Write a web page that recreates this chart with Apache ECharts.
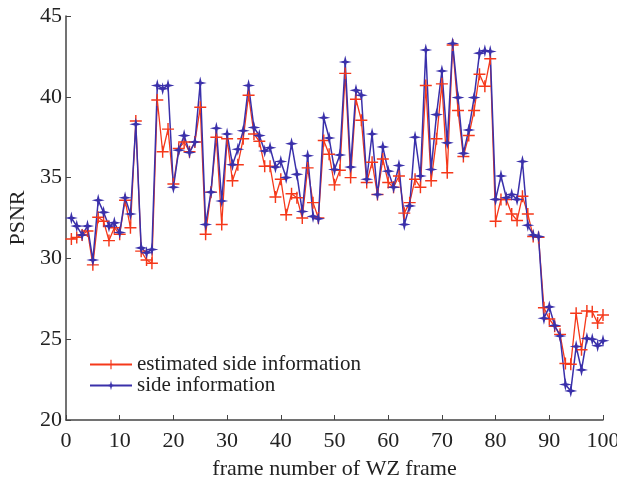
<!DOCTYPE html>
<html>
<head>
<meta charset="utf-8">
<title>PSNR</title>
<script src="https://cdn.jsdelivr.net/npm/echarts@6/dist/echarts.min.js"></script>
<style>
  html, body { margin: 0; padding: 0; background: #fff; }
  #chart { width: 617px; height: 480px; }
</style>
</head>
<body>
<div id="chart"></div>
<script>
  // frame numbers 1..100
  var frames = []
  for (var i = 1; i <= 100; i++) frames.push(i)

  var estimated = [
    31.2, 31.3, 31.45, 31.7, 29.6, 32.55, 32.3, 31.1, 31.9, 31.5,
    33.6, 31.9, 38.5, 30.45, 29.9, 29.7, 39.8, 36.6, 38.0, 34.6,
    36.8, 37.2, 36.6, 37.2, 39.35, 31.5, 34.1, 37.5, 32.1, 37.4,
    34.8, 35.8, 37.4, 40.1, 37.7, 37.25, 35.7, 35.7, 33.8, 34.9,
    32.7, 34.0, 33.75, 32.5, 35.6, 33.45, 32.5, 37.3, 36.45, 34.55,
    35.45, 41.45, 35.0, 39.85, 38.55, 34.7, 35.95, 33.95, 36.15, 34.7,
    34.4, 35.1, 32.8, 33.45, 34.9, 34.4, 40.7, 34.8, 37.4, 40.8,
    35.3, 43.2, 39.15, 36.3, 37.6, 39.15, 41.4, 40.65, 42.35, 32.3,
    33.65, 33.65, 32.75, 32.35, 33.85, 32.75, 31.35, 31.3, 26.95, 26.25,
    25.8, 25.3, 23.5, 23.45, 26.6, 24.35, 26.75, 26.7, 26.0, 26.5
  ]

  var sideInfo = [
    32.5, 32.0, 31.45, 32.0, 29.9, 33.6, 32.85, 32.0, 32.2, 31.6,
    33.75, 32.75, 38.3, 30.65, 30.35, 30.55, 40.7, 40.5, 40.7, 34.4,
    36.7, 37.6, 36.55, 37.2, 40.85, 32.1, 34.1, 38.05, 33.55, 37.7,
    35.8, 36.75, 37.9, 40.7, 38.1, 37.6, 36.65, 36.85, 35.65, 36.0,
    35.0, 37.1, 35.2, 32.9, 36.35, 32.6, 32.45, 38.7, 37.45, 35.5,
    36.4, 42.15, 35.65, 40.4, 40.1, 34.9, 37.7, 33.95, 36.9, 35.4,
    34.4, 35.75, 32.1, 33.25, 37.5, 35.1, 42.9, 35.5, 38.9, 41.6,
    37.15, 43.3, 39.95, 36.5, 37.95, 39.95, 42.7, 42.85, 42.8, 33.65,
    35.1, 33.75, 33.95, 33.65, 36.0, 32.05, 31.45, 31.35, 26.3, 27.0,
    25.85, 25.2, 22.2, 21.8, 24.55, 23.1, 25.05, 25.0, 24.6, 24.9
  ]

  var seriesNames = ['estimated side information', 'side information']

  var font = 'Liberation Serif'
  var red = '#f5381a'
  var blue = '#3a30aa'
  var plusIcon = 'path://M4.4,0h1.2v4.4h4.4v1.2h-4.4v4.4h-1.2v-4.4h-4.4v-1.2h4.4z'
  var starIcon = 'path://M5,0L6,4L10,5L6,6L5,10L4,6L0,5L4,4Z'

  function pairs(vals) {
    return frames.map(function (f, i) { return [f, vals[i]] })
  }

  var chart = echarts.init(document.getElementById('chart'))
  chart.setOption({
    backgroundColor: '#fff',
    animation: false,
    grid: {
      left: 66,
      right: 14,
      top: 16,
      bottom: 60,
      outerBoundsMode: 'none'
    },
    legend: {
      orient: 'vertical',
      left: 84,
      top: 349,
      itemWidth: 42,
      itemHeight: 12,
      itemGap: 0,
      data: seriesNames,
      textStyle: {
        fontFamily: font,
        fontSize: 21,
        lineHeight: 20,
        color: '#222'
      }
    },
    xAxis: {
      type: 'value',
      min: 0,
      max: 100,
      interval: 10,
      name: 'frame number of WZ frame',
      nameLocation: 'middle',
      nameGap: 38,
      nameTextStyle: { fontFamily: font, fontSize: 22, color: '#222' },
      axisLine: { lineStyle: { color: '#444', width: 1.5 } },
      axisTick: { inside: true, length: 5, lineStyle: { color: '#444' } },
      axisLabel: { fontFamily: font, fontSize: 22, color: '#222', margin: 10 },
      splitLine: { show: false }
    },
    yAxis: {
      type: 'value',
      min: 20,
      max: 45,
      interval: 5,
      name: 'PSNR',
      nameLocation: 'middle',
      nameGap: 36,
      nameTextStyle: { fontFamily: font, fontSize: 22, color: '#222' },
      axisLine: { show: true, lineStyle: { color: '#444', width: 1.5 } },
      axisTick: { show: true, inside: true, length: 5, lineStyle: { color: '#444' } },
      axisLabel: { fontFamily: font, fontSize: 22, color: '#222', margin: 4 },
      splitLine: { show: false }
    },
    series: [
      {
        name: seriesNames[0],
        type: 'line',
        data: pairs(estimated),
        symbol: plusIcon,
        symbolSize: 12,
        showAllSymbol: true,
        itemStyle: { color: red },
        lineStyle: { color: red, width: 1.3 }
      },
      {
        name: seriesNames[1],
        type: 'line',
        data: pairs(sideInfo),
        symbol: starIcon,
        symbolSize: 13,
        showAllSymbol: true,
        itemStyle: { color: blue },
        lineStyle: { color: blue, width: 1.5 }
      }
    ]
  })
</script>
</body>
</html>
